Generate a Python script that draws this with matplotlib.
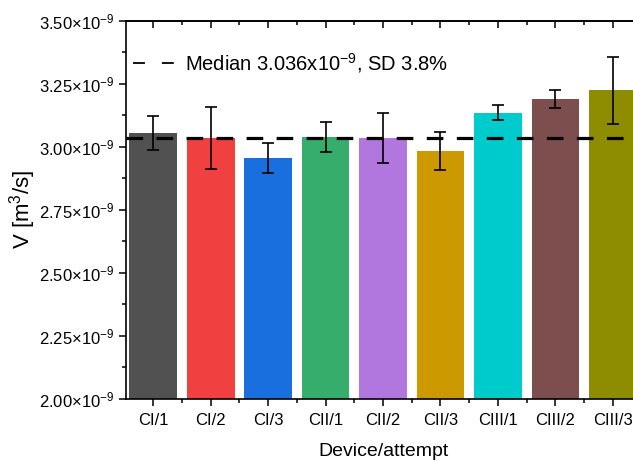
import matplotlib
matplotlib.use("Agg")
import matplotlib.pyplot as plt
from matplotlib.ticker import FixedLocator, FuncFormatter
from matplotlib.lines import Line2D
import numpy as np

plt.rcParams['font.family'] = ['Liberation Sans', 'DejaVu Sans']
plt.rcParams['mathtext.fontset'] = 'custom'
plt.rcParams['mathtext.rm'] = 'Liberation Sans'
plt.rcParams['mathtext.it'] = 'Liberation Sans:italic'
plt.rcParams['mathtext.bf'] = 'Liberation Sans:bold'

# ---- data ----
categories = ["CI/1", "CI/2", "CI/3", "CII/1", "CII/2", "CII/3", "CIII/1", "CIII/2", "CIII/3"]
flow_rate = [3.054e-9, 3.034e-9, 2.956e-9, 3.040e-9, 3.035e-9, 2.983e-9, 3.135e-9, 3.191e-9, 3.224e-9]
flow_err = [0.068e-9, 0.124e-9, 0.061e-9, 0.060e-9, 0.100e-9, 0.074e-9, 0.030e-9, 0.036e-9, 0.134e-9]
median_value = 3.036e-9
legend_label = r"Median 3.036x10$^{-9}$, SD 3.8%"
y_ticks = [2.00e-9, 2.25e-9, 2.50e-9, 2.75e-9, 3.00e-9, 3.25e-9, 3.50e-9]
colors = ["#515151", "#F14040", "#1A6FDF", "#37AD6B", "#B177DE",
          "#CC9900", "#00CBCC", "#7D4E4E", "#8E8C00"]

fig = plt.figure(figsize=(6.33, 4.61), dpi=100)
ax = fig.add_axes([0.1986, 0.1345, 0.813, 0.8206])

x = np.arange(1, len(categories) + 1)
ax.bar(x, flow_rate, width=0.83, color=colors, zorder=2)
ax.errorbar(x, flow_rate, yerr=flow_err, fmt='none', ecolor='black',
            elinewidth=1.2, capsize=4, capthick=1.2, zorder=4)
ax.axhline(median_value, color='black', lw=2.3, dashes=(5.2, 4.2), zorder=3)

ax.set_xlim(0.52, 9.48)
ax.set_ylim(2.0e-9, 3.5e-9)

ax.set_xticks(x)
ax.set_xticklabels(categories)
ax.xaxis.set_minor_locator(FixedLocator(x[:-1] + 0.5))
yt = np.array(y_ticks)
ax.yaxis.set_major_locator(FixedLocator(yt))
ax.yaxis.set_minor_locator(FixedLocator((yt[:-1] + yt[1:]) / 2))
ax.yaxis.set_major_formatter(FuncFormatter(
    lambda v, p: r"$\mathregular{%.2f{\times}10^{-9}}$" % (v / 1e-9)))
ax.tick_params(axis='both', which='major', direction='out', length=5, width=1.1)
ax.tick_params(axis='both', which='minor', direction='out', length=3, width=1.1)
ax.tick_params(axis='x', which='major', pad=5, labelsize=12)
ax.tick_params(axis='y', which='major', pad=3, labelsize=12)

for side in ['left', 'bottom', 'top']:
    ax.spines[side].set_linewidth(1.2)
ax.spines['right'].set_visible(False)

sec = ax.secondary_xaxis('top')
sec.set_xticks(x)
sec.xaxis.set_minor_locator(FixedLocator(x[:-1] + 0.5))
sec.tick_params(axis='x', which='major', direction='in', length=5, width=1.1, labeltop=False)
sec.tick_params(axis='x', which='minor', direction='in', length=3, width=1.1)
sec.spines['top'].set_linewidth(1.2)

ax.set_xlabel("Device/attempt", fontsize=14, labelpad=11)
ax.set_ylabel(r"V [m$^3$/s]", fontsize=16, labelpad=1)

handle = Line2D([], [], color='black', lw=1.3, dashes=(6.6, 9.4))
ax.legend([handle], [legend_label], loc='center left',
          bbox_to_anchor=(0.0148, 0.8874), frameon=False, fontsize=14.5,
          handlelength=2.0, handletextpad=0.55, borderpad=0, borderaxespad=0)

fig.savefig("out.png", dpi=100)
